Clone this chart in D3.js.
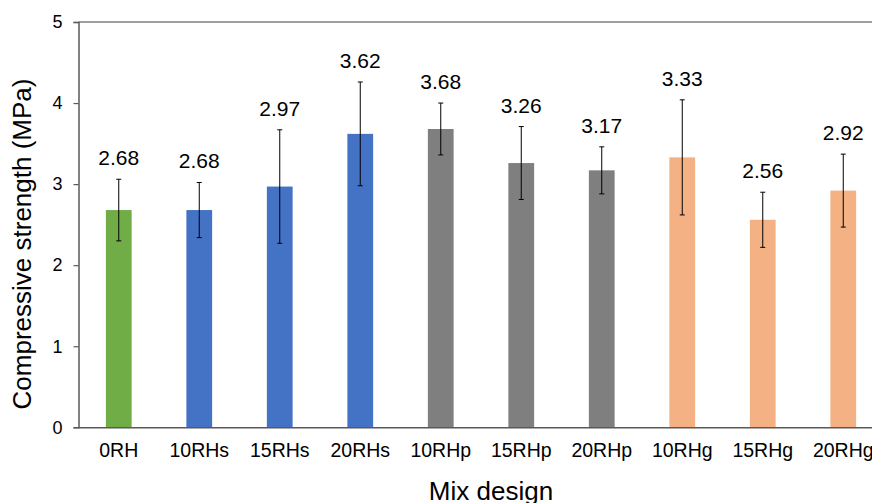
<!DOCTYPE html>
<html>
<head>
<meta charset="utf-8">
<script src="https://cdn.jsdelivr.net/npm/d3@7"></script>
<style>
  html, body { margin: 0; padding: 0; background: #fff; }
  svg { display: block; font-family: "Liberation Sans", Arial, sans-serif; }
</style>
</head>
<body>
<svg id="chart" width="872" height="503"></svg>
<script>
// Mix designs and their mean compressive strength (MPa) with standard deviation
const mixes = ["0RH", "10RHs", "15RHs", "20RHs", "10RHp", "15RHp", "20RHp", "10RHg", "15RHg", "20RHg"];
const strength = [2.68, 2.68, 2.97, 3.62, 3.68, 3.26, 3.17, 3.33, 2.56, 2.92];
const stdev = [0.38, 0.34, 0.70, 0.64, 0.32, 0.45, 0.29, 0.71, 0.34, 0.45];
const group = ["control", "s", "s", "s", "p", "p", "p", "g", "g", "g"];
const yTicks = [0, 1, 2, 3, 4, 5];

const groupColor = { control: "#70AD47", s: "#4472C4", p: "#7F7F7F", g: "#F4B183" };

const svg = d3.select("#chart");
const plotLeft = 78.5, plotRight = 883.5, plotTop = 22, plotBottom = 427.3;

const x = d3.scaleBand().domain(mixes).range([plotLeft, plotRight]).paddingInner(0.68).paddingOuter(0.34);
const y = d3.scaleLinear().domain([0, 5]).range([plotBottom, plotTop]);

const axisColor = "#595959";
const fontFam = "Liberation Sans, Arial, sans-serif";

// top frame line
svg.append("line")
  .attr("x1", plotLeft).attr("x2", 872)
  .attr("y1", y(5)).attr("y2", y(5))
  .attr("stroke", "#7f7f7f").attr("stroke-width", 1.5);

// bars
svg.append("g").selectAll("rect")
  .data(mixes)
  .join("rect")
  .attr("x", d => x(d))
  .attr("width", x.bandwidth())
  .attr("y", (d, i) => y(strength[i]))
  .attr("height", (d, i) => y(0) - y(strength[i]))
  .attr("fill", (d, i) => groupColor[group[i]]);

// y axis
const yAxis = d3.axisLeft(y).tickValues(yTicks).tickSize(5).tickPadding(11).tickFormat(d3.format("d"));
const gy = svg.append("g").attr("transform", `translate(${plotLeft},0)`).call(yAxis);
gy.select(".domain").attr("stroke", axisColor).attr("stroke-width", 1.5);
gy.selectAll(".tick line").attr("stroke", axisColor).attr("stroke-width", 1.2);
gy.selectAll(".tick text").attr("fill", "#000").style("font-size", "18px").style("font-family", fontFam);

// x axis
const xAxis = d3.axisBottom(x).tickSize(0).tickPadding(16);
const gx = svg.append("g").attr("transform", `translate(0,${plotBottom})`).call(xAxis);
gx.select(".domain").attr("stroke", axisColor).attr("stroke-width", 1.5);
gx.selectAll(".tick text").attr("fill", "#000").style("font-size", "19.5px").style("font-family", fontFam);

// error bars
const eb = svg.append("g").attr("stroke", "#000").attr("stroke-width", 1);
mixes.forEach((m, i) => {
  const cx = x(m) + x.bandwidth() / 2;
  const y1 = y(strength[i] + stdev[i]), y2 = y(strength[i] - stdev[i]);
  eb.append("line").attr("x1", cx).attr("x2", cx).attr("y1", y1).attr("y2", y2);
  eb.append("line").attr("x1", cx - 2.5).attr("x2", cx + 2.5).attr("y1", y1).attr("y2", y1);
  eb.append("line").attr("x1", cx - 2.5).attr("x2", cx + 2.5).attr("y1", y2).attr("y2", y2);
});

// value labels above error bars
svg.append("g").selectAll("text")
  .data(mixes)
  .join("text")
  .attr("x", d => x(d) + x.bandwidth() / 2)
  .attr("y", (d, i) => y(strength[i] + stdev[i]) - 14)
  .attr("text-anchor", "middle")
  .style("font-size", "21px")
  .attr("fill", "#000")
  .text((d, i) => strength[i].toFixed(2));

// axis titles
svg.append("text")
  .attr("transform", `translate(31,244) rotate(-90)`)
  .attr("text-anchor", "middle")
  .style("font-size", "26px")
  .text("Compressive strength (MPa)");

svg.append("text")
  .attr("x", 491).attr("y", 500)
  .attr("text-anchor", "middle")
  .style("font-size", "26px")
  .text("Mix design");
</script>
</body>
</html>
